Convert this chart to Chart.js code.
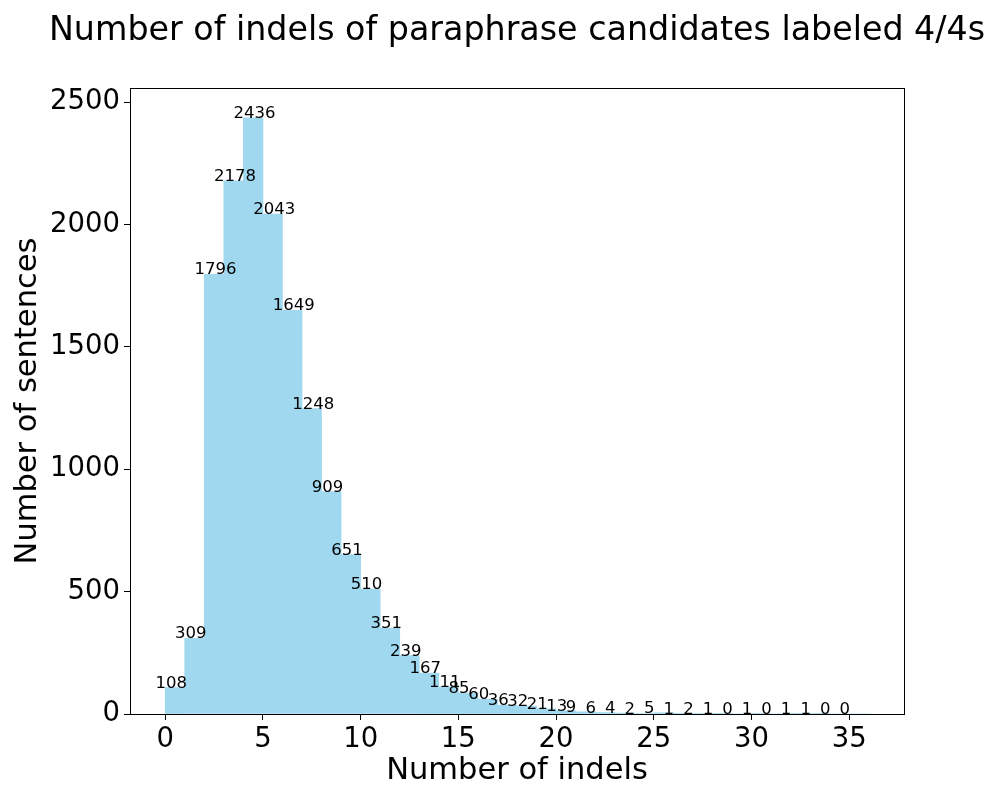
<!DOCTYPE html>
<html>
<head>
<meta charset="utf-8">
<script src="https://cdn.jsdelivr.net/npm/chart.js@4"></script>
<style>
  html, body { margin: 0; padding: 0; background: #fff; }
  #wrap { width: 1000px; height: 800px; }
</style>
</head>
<body>
<div id="wrap"><canvas id="indelChart" width="1000" height="800"></canvas></div>
<script>
// lower edge of each 1-wide bin
const binEdges = [0, 1, 2, 3, 4, 5, 6, 7, 8, 9, 10, 11, 12, 13, 14, 15, 16, 17,
    18, 19, 20, 21, 22, 23, 24, 25, 26, 27, 28, 29, 30, 31, 32, 33, 34, 35];
const counts = [108, 309, 1796, 2178, 2436, 2043, 1649, 1248, 909, 651, 510, 351,
    239, 167, 111, 85, 60, 36, 32, 21, 13, 9, 6, 4, 2, 5, 1, 2, 1, 0, 1, 0, 1, 1, 0, 0];
const xTicks = [0, 5, 10, 15, 20, 25, 30, 35];
const yTicks = [0, 500, 1000, 1500, 2000, 2500];
const chartTitle = 'Number of indels of paraphrase candidates labeled 4/4s';

const FONT = "'DejaVu Sans', sans-serif";

// top + right spines and the title, like matplotlib
const frame = {
    id: 'frame',
    afterDraw(chart) {
        const a = chart.chartArea;
        const c = chart.ctx;
        c.save();
        c.strokeStyle = '#000';
        c.lineWidth = 1;
        c.strokeRect(Math.round(a.left) + 0.5, Math.round(a.top) + 0.5,
            Math.round(a.right - a.left), Math.round(a.bottom - a.top));
        c.fillStyle = '#000';
        c.font = '33.3px ' + FONT;
        c.textAlign = 'center';
        c.textBaseline = 'middle';
        c.fillText(chartTitle, (a.left + a.right) / 2, 31);
        c.restore();
    }
};

// count printed above each bar, left-aligned half a bin before its edge
const barLabels = {
    id: 'barLabels',
    afterDatasetsDraw(chart) {
        const c = chart.ctx;
        const xs = chart.scales.x, ys = chart.scales.y;
        c.save();
        c.font = '16.5px ' + FONT;
        c.fillStyle = '#000';
        c.textAlign = 'left';
        c.textBaseline = 'alphabetic';
        counts.forEach((v, i) => {
            c.fillText(String(v), xs.getPixelForValue(binEdges[i] - 0.5), ys.getPixelForValue(v));
        });
        c.restore();
    }
};

new Chart(document.getElementById('indelChart').getContext('2d'), {
    type: 'bar',
    data: {
        datasets: [{
            data: counts.map((v, i) => ({ x: binEdges[i] + 0.5, y: v })),
            backgroundColor: '#9fd8ef',
            borderWidth: 0,
            barPercentage: 1,
            categoryPercentage: 1
        }]
    },
    options: {
        responsive: false,
        animation: false,
        layout: { padding: { left: 0, right: 96, top: 88, bottom: 0 } },
        plugins: {
            legend: { display: false },
            tooltip: { enabled: false },
            title: { display: false }
        },
        scales: {
            x: {
                type: 'linear',
                offset: false,
                min: -1.8,
                max: 37.8,
                afterBuildTicks: (s) => { s.ticks = xTicks.map(v => ({ value: v })); },
                afterFit: (s) => { s.height = 86; },
                grid: { offset: false, drawOnChartArea: false, drawTicks: true, tickLength: 6, tickColor: '#000' },
                border: { display: true, color: '#000' },
                ticks: { color: '#000', font: { family: FONT, size: 27.5 }, padding: 3, maxRotation: 0,
                    callback: (v) => String(v) },
                title: { display: true, text: 'Number of indels', color: '#000',
                    font: { family: FONT, size: 30.5 }, padding: { top: 0, bottom: 11 } }
            },
            y: {
                min: 0,
                max: 2557.8,
                afterBuildTicks: (s) => { s.ticks = yTicks.map(v => ({ value: v })); },
                afterFit: (s) => { s.width = 130; },
                grid: { drawOnChartArea: false, drawTicks: true, tickLength: 6, tickColor: '#000' },
                border: { display: true, color: '#000' },
                ticks: { color: '#000', font: { family: FONT, size: 27.5 }, padding: 4,
                    callback: (v) => String(v) },
                title: { display: true, text: 'Number of sentences', color: '#000',
                    font: { family: FONT, size: 30.5 }, padding: { top: 10, bottom: 0 } }
            }
        }
    },
    plugins: [frame, barLabels]
});
</script>
</body>
</html>
